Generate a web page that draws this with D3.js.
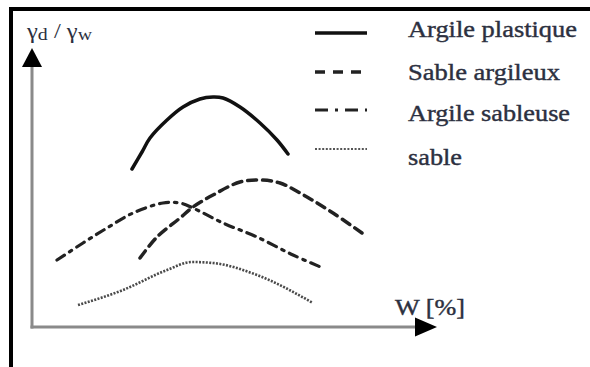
<!DOCTYPE html>
<html><head><meta charset="utf-8">
<script src="https://cdn.jsdelivr.net/npm/d3@7"></script>
<style>html,body{margin:0;padding:0;background:#fff;}svg{display:block;}</style>
</head><body>
<script>
// Data (W [%], γd/γw in arbitrary chart units)
const seriesNames = ["Argile plastique", "Sable argileux", "Argile sableuse", "sable"];
const argilePlastique = [[10,15.8],[11,17.5],[11.8,18.9],[13.5,20.7],[15.1,22],[16.8,22.8],[18.1,23],[19.1,22.9],[20.8,22],[22.8,20.4],[24.5,18.7],[25.6,17.3]];
const sableArgileux = [[10.8,6.9],[12.5,9],[14.8,10.9],[16.1,12],[18.1,13.2],[20.8,14.5],[22.8,14.7],[24.8,14.4],[27.5,13],[30.1,11.4],[33,9.4]];
const argileSableuse = [[2.5,6.7],[5.1,8.4],[7.5,9.9],[10.1,11.4],[13.1,12.4],[14.8,12.4],[16.1,11.9],[19.1,10.4],[22.5,9],[26.1,7.2],[29.1,5.9]];
const sable = [[4.6,2.2],[9.1,3.7],[13.5,5.7],[16,6.5],[18.1,6.4],[22.5,5.2],[28.1,2.4]];
const xLabel = "W [%]";

const W = 590, H = 367;
const svg = d3.select("body").append("svg").attr("width", W).attr("height", H);

const x = d3.scaleLinear().domain([0, 40.5]).range([32, 437]);
const y = d3.scaleLinear().domain([0, 27.9]).range([327, 48]);

// frame (top + left)
svg.append("line").attr("x1", 9).attr("x2", W).attr("y1", 9).attr("y2", 9).attr("stroke", "#000").attr("stroke-width", 4);
svg.append("line").attr("x1", 11).attr("x2", 11).attr("y1", 7).attr("y2", H).attr("stroke", "#000").attr("stroke-width", 4);

// axes
const axisColor = "#8a8a8a";
svg.append("line").attr("x1", x(0)).attr("x2", x(0)).attr("y1", y(0) + 1.5).attr("y2", y(26)).attr("stroke", axisColor).attr("stroke-width", 3);
svg.append("line").attr("x1", x(0) - 1.5).attr("x2", x(38.5)).attr("y1", y(0)).attr("y2", y(0)).attr("stroke", axisColor).attr("stroke-width", 3);
// arrowheads
const tipY = y(27.9), tipX = x(40.5);
svg.append("path").attr("d", `M${x(0)},${tipY} L${x(0)-10},${tipY+19} L${x(0)+10},${tipY+19} Z`).attr("fill", "#000");
svg.append("path").attr("d", `M${tipX},${y(0)} L${tipX-22},${y(0)-9.5} L${tipX-22},${y(0)+9.5} Z`).attr("fill", "#000");

// labels
const textColor = "#2c3040";
const serif = "'Times New Roman', 'Liberation Serif', serif";
const yl = svg.append("text").attr("x", 27).attr("y", 38).attr("font-family", serif).attr("font-size", 21).attr("fill", textColor)
  .attr("textLength", 65).attr("lengthAdjust", "spacingAndGlyphs");
yl.append("tspan").text("γ");
yl.append("tspan").attr("font-size", 17).attr("dy", 2).text("d");
yl.append("tspan").attr("dy", -2).text(" / γ");
yl.append("tspan").attr("font-size", 17).attr("dy", 2).text("w");

svg.append("text").attr("x", 395).attr("y", 315).attr("font-family", serif).attr("font-size", 23)
  .attr("fill", textColor).attr("stroke", textColor).attr("stroke-width", 0.4)
  .attr("textLength", 70).attr("lengthAdjust", "spacingAndGlyphs").text(xLabel);

// curves
const line = d3.line().x(d => x(d[0])).y(d => y(d[1])).curve(d3.curveCatmullRom.alpha(0.5));
const lineLin = d3.line().x(d => x(d[0])).y(d => y(d[1])).curve(d3.curveMonotoneX);
const styles = [
  {data: argilePlastique, w: 3.5, dash: null, color: "#111", gen: line},
  {data: sableArgileux, w: 3.5, dash: "9,6", color: "#222", gen: line},
  {data: argileSableuse, w: 3.2, dash: "9,6,2.5,6", color: "#222", gen: line},
  {data: sable, w: 2.6, dash: "2,1.4", color: "#4a4a4a", gen: lineLin}
];
styles.forEach(s => {
  svg.append("path").attr("d", s.gen(s.data)).attr("fill", "none").attr("stroke", s.color)
    .attr("stroke-width", s.w).attr("stroke-dasharray", s.dash).attr("stroke-linecap", s.dash === "2,1.4" ? "butt" : "round");
});

// legend
const legendY = [33, 72, 110, 149];
const textY = [37, 80, 121, 165];
const textLen = [169, 152, 162, 54];
const legendDash = [null, "10,8", "13,7,3,7", "2,1.6"];
const legendW = [3.5, 3.5, 3.2, 2.2];
const legendC = ["#111", "#222", "#222", "#555"];
seriesNames.forEach((n, i) => {
  svg.append("line").attr("x1", 315).attr("x2", 367).attr("y1", legendY[i]).attr("y2", legendY[i])
    .attr("stroke", legendC[i]).attr("stroke-width", legendW[i]).attr("stroke-dasharray", legendDash[i]);
  svg.append("text").attr("x", 408).attr("y", textY[i]).attr("font-family", serif).attr("font-size", 23)
    .attr("fill", textColor).attr("stroke", textColor).attr("stroke-width", 0.4)
    .attr("textLength", textLen[i]).attr("lengthAdjust", "spacingAndGlyphs").text(n);
});
</script>
</body></html>
